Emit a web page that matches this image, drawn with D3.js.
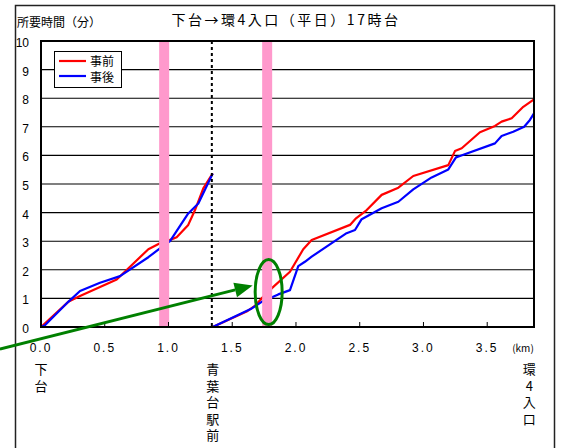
<!DOCTYPE html>
<html><head><meta charset="utf-8">
<script src="https://cdn.jsdelivr.net/npm/d3@7"></script>
<style>body{margin:0;background:#fff} svg{display:block}</style>
</head><body><svg id="c" width="563" height="448"></svg>
<script>
// ---- data ----
const chartTitle = "下台→環4入口（平日）17時台";
const yTitle = "所要時間（分）";
const seriesNames = ["事前", "事後"];
const seriesColors = ["#ff0000", "#0000ff"];
const yTicks = [0, 1, 2, 3, 4, 5, 6, 7, 8, 9, 10];
const xTicks = [0, 0.5, 1.0, 1.5, 2.0, 2.5, 3.0, 3.5];
const xTickLabels = ["0.0", "0.5", "1.0", "1.5", "2.0", "2.5", "3.0", "3.5"];
const xUnit = "(km)";
const stationNames = ["下台", "青葉台駅前", "環4入口"];
const stationKm = [0, 1.34, 3.83];
const signalKm = [0.966, 1.774];
const xMax = 3.867;

// 事前 (before)
const beforeKm1 = [0, 0.214, 0.306, 0.594, 0.842, 0.933, 0.999, 1.064, 1.155, 1.208, 1.273, 1.347];
const beforeMin1 = [0, 0.88, 1.08, 1.66, 2.72, 2.93, 3.02, 3.14, 3.57, 4.09, 4.85, 5.37];
const beforeKm2 = [1.347, 1.613, 1.68, 1.731, 1.809, 1.953, 2.057, 2.123, 2.424, 2.471, 2.555, 2.672, 2.803, 2.92, 3.195, 3.247, 3.3, 3.443, 3.561, 3.613, 3.692, 3.783, 3.867];
const beforeMin2 = [0, 0.54, 0.75, 1.0, 1.35, 1.93, 2.72, 3.04, 3.57, 3.80, 4.09, 4.62, 4.87, 5.28, 5.66, 6.15, 6.25, 6.81, 7.03, 7.18, 7.3, 7.7, 7.96];
// 事後 (after)
const afterKm1 = [0, 0.031, 0.214, 0.306, 0.463, 0.62, 0.842, 0.933, 1.012, 1.155, 1.234, 1.347];
const afterMin1 = [0, 0.06, 0.88, 1.26, 1.55, 1.78, 2.44, 2.75, 3.0, 3.97, 4.32, 5.37];
const afterKm2 = [1.347, 1.653, 1.731, 1.861, 1.953, 2.018, 2.07, 2.123, 2.397, 2.463, 2.515, 2.672, 2.803, 2.92, 3.064, 3.195, 3.255, 3.286, 3.561, 3.613, 3.704, 3.79, 3.835, 3.867];
const afterMin2 = [0, 0.65, 0.88, 1.14, 1.29, 2.13, 2.28, 2.46, 3.28, 3.39, 3.77, 4.15, 4.38, 4.81, 5.23, 5.51, 5.93, 5.98, 6.42, 6.68, 6.83, 7.0, 7.24, 7.47];

// ---- drawing ----
const svg = d3.select("#c");
const W = 563, H = 448;
const x = d3.scaleLinear().domain([0, xMax]).range([41, 534]);
const y = d3.scaleLinear().domain([0, 10]).range([327, 41]);
const jp = "'Noto Sans CJK JP', sans-serif";
const num = "'Liberation Sans', Arial, sans-serif";

svg.append("rect").attr("width", W).attr("height", H).attr("fill", "#fff");
// outer frame
svg.append("rect").attr("x", 15.5).attr("y", 5.5).attr("width", 539).attr("height", 470)
  .attr("fill", "none").attr("stroke", "#222").attr("stroke-width", 1.5);

// title
svg.append("text").attr("x", 286).attr("y", 25).attr("text-anchor", "middle")
  .attr("font-family", jp).attr("font-size", 14).attr("letter-spacing", 2.5).attr("fill", "#000").text(chartTitle);
svg.append("text").attr("x", 17).attr("y", 27)
  .attr("font-family", jp).attr("font-size", 12).attr("fill", "#000").text(yTitle);

// grid
svg.append("g").selectAll("line").data(yTicks.filter(d => d > 0 && d < 10)).join("line")
  .attr("x1", x(0)).attr("x2", x(xMax)).attr("y1", d => y(d)).attr("y2", d => y(d))
  .attr("stroke", "#000").attr("stroke-width", 1.1);

// y labels
svg.append("g").selectAll("text").data(yTicks).join("text")
  .attr("x", 29).attr("y", d => y(d) + 6).attr("text-anchor", "end")
  .attr("font-family", num).attr("font-size", 12).attr("fill", "#000").text(d => d);

// series lines
const line = d3.line().x(d => x(d[0])).y(d => y(d[1]));
const zip = (a, b) => a.map((v, i) => [v, b[i]]);
const segs = [
  [zip(beforeKm1, beforeMin1), 0], [zip(beforeKm2, beforeMin2), 0],
  [zip(afterKm1, afterMin1), 1], [zip(afterKm2, afterMin2), 1]
];
svg.append("g").selectAll("path").data(segs).join("path")
  .attr("d", d => line(d[0])).attr("fill", "none")
  .attr("stroke", d => seriesColors[d[1]]).attr("stroke-width", 2.2)
  .attr("stroke-linejoin", "round");

// signal bands
svg.append("g").selectAll("rect").data(signalKm).join("rect")
  .attr("x", d => x(d) - 5).attr("width", 10).attr("y", y(10)).attr("height", y(0) - y(10))
  .attr("fill", "#ff99cc");

// station dotted line
svg.append("line").attr("x1", x(stationKm[1])).attr("x2", x(stationKm[1]))
  .attr("y1", y(10)).attr("y2", y(0)).attr("stroke", "#000").attr("stroke-width", 2)
  .attr("stroke-dasharray", "3,3");

// plot border
svg.append("rect").attr("x", x(0)).attr("y", y(10)).attr("width", x(xMax) - x(0)).attr("height", y(0) - y(10))
  .attr("fill", "none").attr("stroke", "#000").attr("stroke-width", 2);

// x ticks (inward)
svg.append("g").selectAll("line").data(xTicks.filter(d => d > 0)).join("line")
  .attr("x1", d => x(d)).attr("x2", d => x(d)).attr("y1", y(0)).attr("y2", y(0) - 5)
  .attr("stroke", "#000").attr("stroke-width", 1);
svg.append("g").selectAll("text").data(xTicks).join("text")
  .attr("x", d => x(d)).attr("y", 352).attr("text-anchor", "middle")
  .attr("font-family", num).attr("font-size", 12).attr("letter-spacing", 2).attr("fill", "#000")
  .text((d, i) => xTickLabels[i]);
svg.append("text").attr("x", 523).attr("y", 352).attr("text-anchor", "middle")
  .attr("font-family", jp).attr("font-size", 10).attr("fill", "#000").text(xUnit);

// station labels (vertical, one text each)
svg.append("g").selectAll("text").data(stationNames).join("text")
  .attr("x", (d, i) => x(stationKm[i]) + (i === 1 ? 1 : 0))
  .attr("y", 363)
  .style("writing-mode", "vertical-rl")
  .style("text-orientation", "upright")
  .attr("letter-spacing", 3.5)
  .attr("font-family", jp).attr("font-size", 13).attr("fill", "#000")
  .text(d => d);

// legend
const lg = svg.append("g");
lg.append("rect").attr("x", 54.5).attr("y", 51.5).attr("width", 67).attr("height", 36)
  .attr("fill", "#fff").attr("stroke", "#000").attr("stroke-width", 1);
seriesNames.forEach((n, i) => {
  lg.append("line").attr("x1", 59).attr("x2", 86).attr("y1", 61 + i * 15).attr("y2", 61 + i * 15)
    .attr("stroke", seriesColors[i]).attr("stroke-width", 2.2);
  lg.append("text").attr("x", 90).attr("y", 66 + i * 16).attr("font-family", jp)
    .attr("font-size", 12).attr("fill", "#000").text(n);
});

// annotation: ellipse + arrow
const green = "#008000";
svg.append("ellipse").attr("cx", x(signalKm[1]) + 1.5).attr("cy", y(1.22)).attr("rx", 13.5).attr("ry", 32.5)
  .attr("fill", "none").attr("stroke", green).attr("stroke-width", 3);
const ax0 = x(-0.322), ay0 = y(-0.77), ax1 = x(1.66), ay1 = y(1.45);
const ang = Math.atan2(ay1 - ay0, ax1 - ax0);
const hl = 18, hw = 7.5;
const bx = ax1 - hl * Math.cos(ang), by = ay1 - hl * Math.sin(ang);
svg.append("line").attr("x1", ax0).attr("y1", ay0).attr("x2", bx).attr("y2", by)
  .attr("stroke", green).attr("stroke-width", 3);
svg.append("path").attr("d", d3.line()([
  [ax1, ay1],
  [bx - hw * Math.sin(ang), by + hw * Math.cos(ang)],
  [bx + hw * Math.sin(ang), by - hw * Math.cos(ang)]
])).attr("fill", green);
</script></body></html>
